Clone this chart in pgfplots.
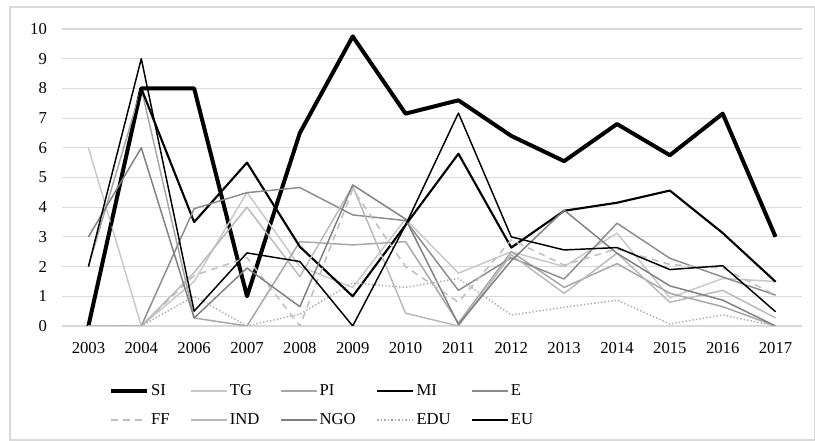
\documentclass[border=0pt]{standalone}
\usepackage{fontspec}
\setmainfont{Liberation Serif}
\usepackage{pgfplots}
\pgfplotsset{compat=1.18}
\usetikzlibrary{calc}
\definecolor{gridc}{RGB}{217,217,217}
\definecolor{cTG}{RGB}{200,200,200}
\definecolor{cPI}{RGB}{166,166,166}
\definecolor{cE}{RGB}{140,140,140}
\definecolor{cFF}{RGB}{190,190,190}
\definecolor{cIND}{RGB}{185,185,185}
\definecolor{cNGO}{RGB}{128,128,128}
\definecolor{cEDU}{RGB}{170,170,170}
\begin{document}
\fontsize{12.5}{15}\selectfont
\begin{tikzpicture}
\begin{axis}[
  name=ax,
  scale only axis, width=555pt, height=222.75pt,
  xmin=-0.5, xmax=13.5, ymin=0, ymax=10,
  xtick={0,...,13},
  xticklabels={2003,2004,2006,2007,2008,2009,2010,2011,2012,2013,2014,2015,2016,2017},
  ytick={0,...,10},
  axis line style={draw=none},
  major tick length=0pt,
  ymajorgrids, grid style={color=gridc, line width=0.8pt},
  /pgf/number format/assume math mode=true,
  tick label style={font=\fontsize{12.5}{15}\selectfont},
  xticklabel style={yshift=-8pt},
  yticklabel style={xshift=-7pt},
  legend columns=5,
  legend cell align=left,
  legend style={draw=none, fill=none, at={(axis description cs:0.058,-0.178)}, anchor=north west,
    font=\fontsize{12.5}{15}\selectfont,
    nodes={inner xsep=1.5pt},
    /tikz/every even column/.append style={column sep=14pt}, row sep=7.5pt},
  legend image code/.code={\draw[#1] (0pt,0pt) -- (27pt,0pt);},
  every axis plot/.append style={line join=round},
]
\addplot[black, line width=3pt] coordinates {(0,0) (1,8) (2,8) (3,1) (4,6.5) (5,9.75) (6,7.15) (7,7.6) (8,6.4) (9,5.55) (10,6.8) (11,5.75) (12,7.15) (13,3.0)};
\addlegendentry{SI}
\addplot[cTG, line width=1.1pt] coordinates {(0,6) (1,0) (2,1.5) (3,4.5) (4,2.0) (5,1.3) (6,3.6) (7,1.78) (8,2.5) (9,2.0) (10,3.13) (11,0.95) (12,1.6) (13,1.5)};
\addlegendentry{TG}
\addplot[cPI, line width=1.1pt] coordinates {(0,2) (1,8) (2,0.27) (3,0) (4,2.84) (5,2.73) (6,2.84) (7,0.1) (8,2.5) (9,1.3) (10,2.1) (11,1.1) (12,0.65) (13,0)};
\addlegendentry{PI}
\addplot[black, line width=1.6pt] coordinates {(0,0) (1,8) (2,3.5) (3,5.5) (4,2.67) (5,1.0) (6,3.4) (7,5.8) (8,2.64) (9,3.88) (10,4.15) (11,4.56) (12,3.13) (13,1.49)};
\addlegendentry{MI}
\addplot[cE, line width=1.1pt] coordinates {(0,0) (1,0) (2,3.95) (3,4.49) (4,4.66) (5,3.74) (6,3.55) (7,1.2) (8,2.3) (9,1.58) (10,3.46) (11,2.28) (12,1.65) (13,1.04)};
\addlegendentry{E}
\addplot[cFF, line width=1.1pt, dash pattern=on 5pt off 4pt] coordinates {(0,0) (1,0) (2,1.7) (3,2.3) (4,0) (5,4.6) (6,2.0) (7,0.8) (8,2.9) (9,2.05) (10,2.6) (11,2.07) (12,1.95) (13,1.04)};
\addlegendentry{FF}
\addplot[cIND, line width=1.1pt] coordinates {(0,0) (1,0) (2,1.8) (3,4.0) (4,1.66) (5,4.71) (6,0.43) (7,0) (8,2.4) (9,1.1) (10,2.45) (11,0.8) (12,1.2) (13,0.27)};
\addlegendentry{IND}
\addplot[cNGO, line width=1.1pt] coordinates {(0,3) (1,6) (2,0.27) (3,1.95) (4,0.65) (5,4.75) (6,3.6) (7,0.05) (8,2.2) (9,3.9) (10,2.45) (11,1.35) (12,0.87) (13,0)};
\addlegendentry{NGO}
\addplot[cEDU, line width=1.1pt, dash pattern=on 1pt off 1.6pt] coordinates {(0,0) (1,0) (2,1.0) (3,0) (4,0.4) (5,1.45) (6,1.3) (7,1.6) (8,0.37) (9,0.63) (10,0.87) (11,0.07) (12,0.37) (13,0)};
\addlegendentry{EDU}
\addplot[black, line width=1.1pt] coordinates {(0,2) (1,9) (2,0.5) (3,2.46) (4,2.17) (5,0) (6,3.4) (7,7.17) (8,3.0) (9,2.56) (10,2.64) (11,1.9) (12,2.03) (13,0.48)};
\addlegendentry{EU}
\end{axis}
\draw[color=gridc, line width=0.8pt] ($(ax.south west)+(-39pt,-85.5pt)$) rectangle ($(ax.north east)+(9.3pt,16.5pt)$);
\pgfresetboundingbox
\useasboundingbox ($(ax.south west)+(-46.5pt,-86.25pt)$) rectangle ($(ax.north east)+(9.75pt,21.75pt)$);
\end{tikzpicture}
\end{document}
